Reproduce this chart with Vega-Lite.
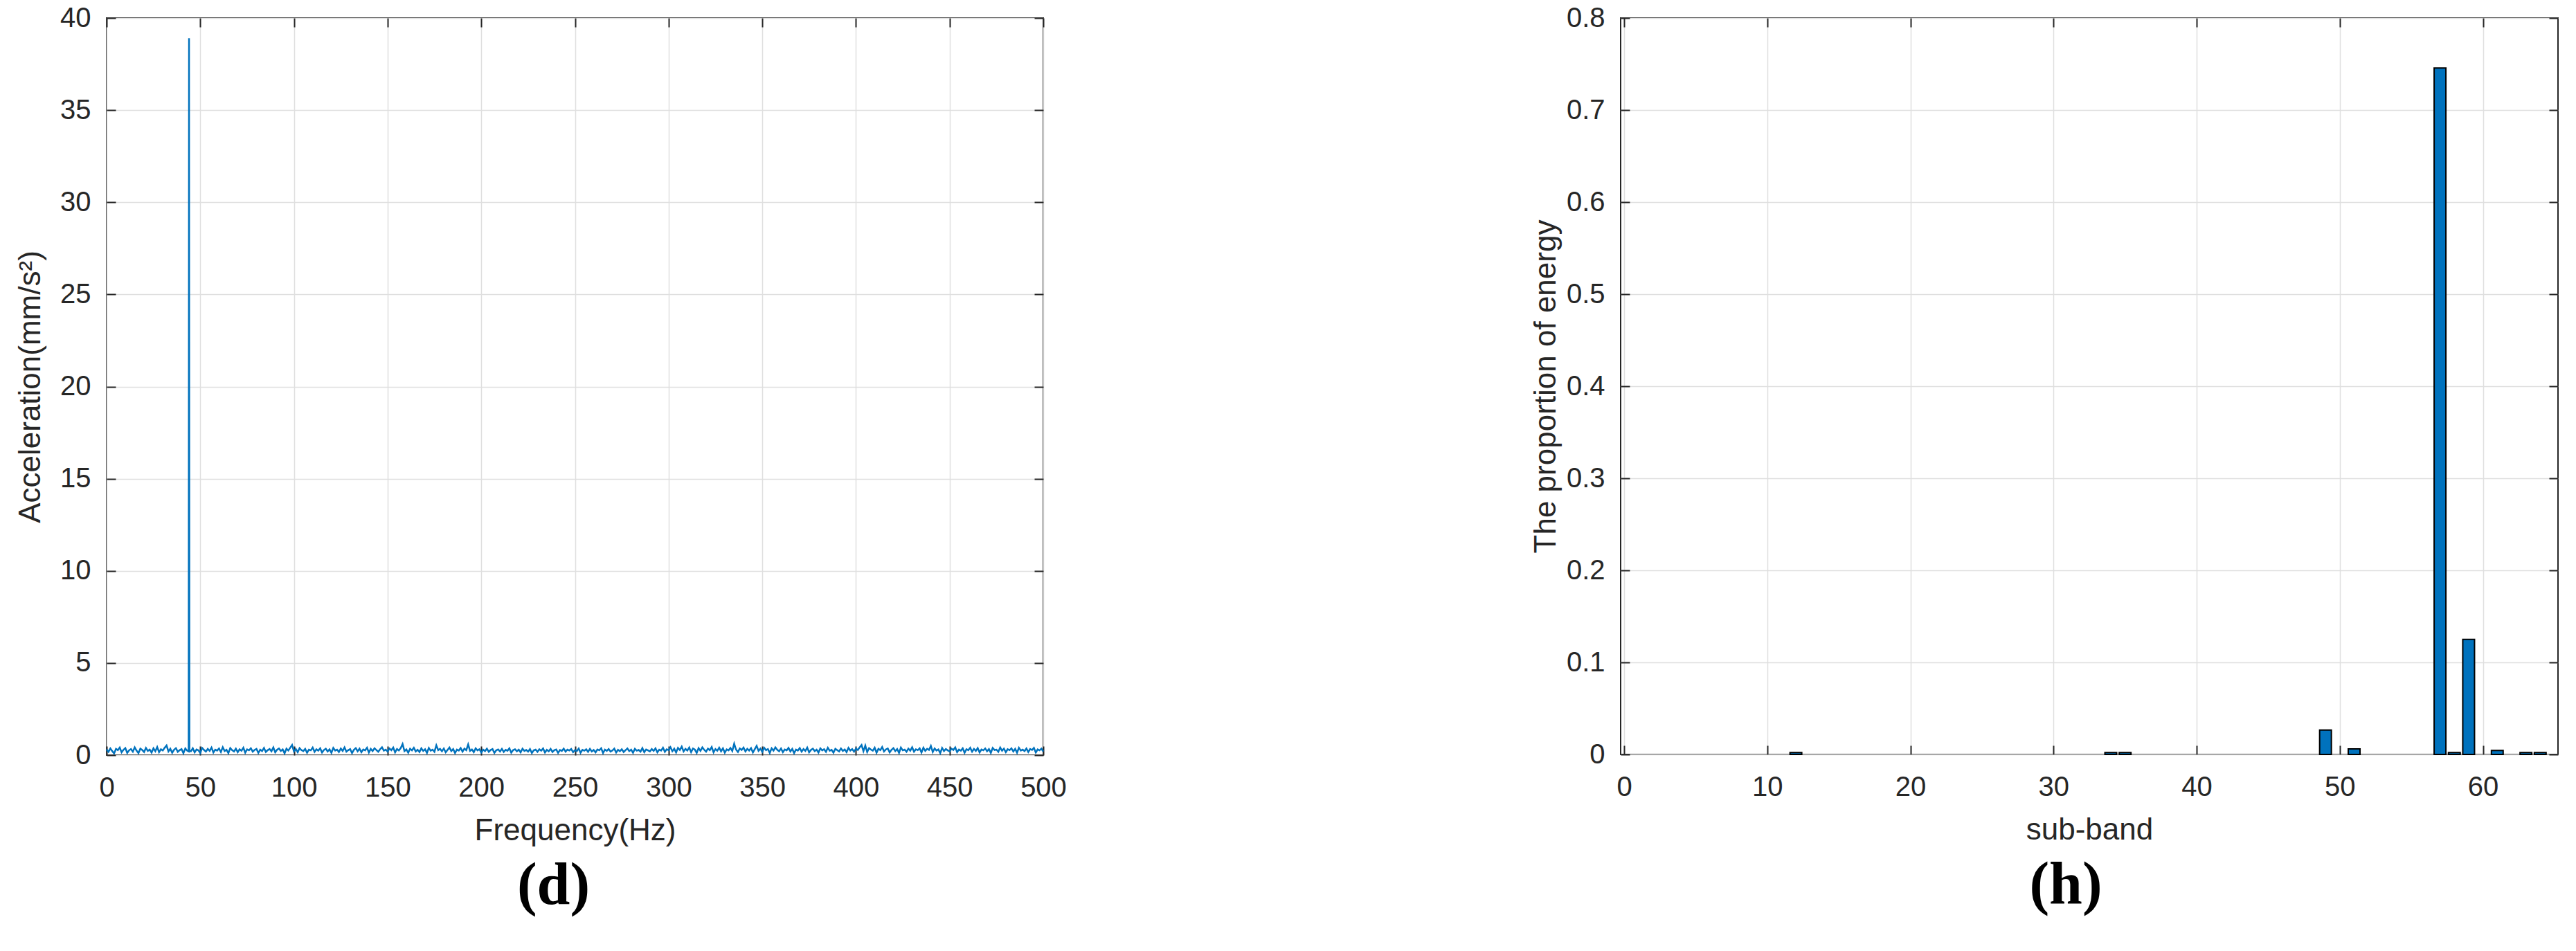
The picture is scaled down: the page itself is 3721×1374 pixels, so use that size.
{
  "$schema": "https://vega.github.io/schema/vega-lite/v6.json",
  "autosize": {"type": "pad"},
  "padding": {"left": 21, "top": 5, "right": 10, "bottom": 10},
  "background": "white",
  "bounds": "flush",
  "spacing": 834,
  "config": {
    "view": {"stroke": "#262626", "strokeWidth": 2},
    "font": "Liberation Sans",
    "axis": {
      "labelFont": "Liberation Sans", "labelFontSize": 40, "labelColor": "#262626", "labelFlush": false,
      "titleFont": "Liberation Sans", "titleFontSize": 44, "titleFontWeight": "normal", "titleColor": "#262626",
      "gridColor": "#dfdfdf", "gridWidth": 1.5, "domain": false,
      "tickColor": "#262626", "tickSize": -13, "tickWidth": 2
    },
    "title": {"font": "Liberation Serif", "fontWeight": "bold", "fontSize": 86, "color": "#000000"}
  },
  "hconcat": [
    {
      "width": 1353, "height": 1065,
      "title": {"text": "(d)", "orient": "bottom", "dx": -31, "offset": 16},
      "data": {"values": [
        {"f":0,"a":0.31},{"f":1,"a":0.18},{"f":2,"a":0.36},{"f":3,"a":0.22},{"f":4,"a":0.09},{"f":5,"a":0.34},{"f":6,"a":0.27},{"f":7,"a":0.41},{"f":8,"a":0.15},{"f":9,"a":0.29},
        {"f":10,"a":0.38},{"f":11,"a":0.12},{"f":12,"a":0.26},{"f":13,"a":0.33},{"f":14,"a":0.19},{"f":15,"a":0.42},{"f":16,"a":0.24},{"f":17,"a":0.11},{"f":18,"a":0.35},{"f":19,"a":0.28},
        {"f":20,"a":0.17},{"f":21,"a":0.39},{"f":22,"a":0.23},{"f":23,"a":0.3},{"f":24,"a":0.14},{"f":25,"a":0.37},{"f":26,"a":0.21},{"f":27,"a":0.44},{"f":28,"a":0.16},{"f":29,"a":0.32},
        {"f":30,"a":0.25},{"f":31,"a":0.4},{"f":32,"a":0.52},{"f":33,"a":0.2},{"f":34,"a":0.35},{"f":35,"a":0.13},{"f":36,"a":0.29},{"f":37,"a":0.38},{"f":38,"a":0.18},{"f":39,"a":0.27},
        {"f":40,"a":0.33},{"f":41,"a":0.1},{"f":42,"a":0.36},{"f":43,"a":0.24},{"f":43.8,"a":0.2},{"f":44,"a":38.9},{"f":44.2,"a":0.22},{"f":45,"a":0.21},{"f":46,"a":0.37},{"f":47,"a":0.15},{"f":48,"a":0.31},{"f":49,"a":0.26},
        {"f":50,"a":0.12},{"f":51,"a":0.39},{"f":52,"a":0.28},{"f":53,"a":0.19},{"f":54,"a":0.34},{"f":55,"a":0.23},{"f":56,"a":0.41},{"f":57,"a":0.14},{"f":58,"a":0.3},{"f":59,"a":0.25},
        {"f":60,"a":0.36},{"f":61,"a":0.17},{"f":62,"a":0.43},{"f":63,"a":0.22},{"f":64,"a":0.29},{"f":65,"a":0.11},{"f":66,"a":0.38},{"f":67,"a":0.27},{"f":68,"a":0.2},{"f":69,"a":0.35},
        {"f":70,"a":0.16},{"f":71,"a":0.32},{"f":72,"a":0.24},{"f":73,"a":0.4},{"f":74,"a":0.13},{"f":75,"a":0.31},{"f":76,"a":0.26},{"f":77,"a":0.37},{"f":78,"a":0.19},{"f":79,"a":0.28},
        {"f":80,"a":0.34},{"f":81,"a":0.12},{"f":82,"a":0.3},{"f":83,"a":0.22},{"f":84,"a":0.39},{"f":85,"a":0.17},{"f":86,"a":0.27},{"f":87,"a":0.33},{"f":88,"a":0.21},{"f":89,"a":0.42},
        {"f":90,"a":0.15},{"f":91,"a":0.29},{"f":92,"a":0.36},{"f":93,"a":0.23},{"f":94,"a":0.31},{"f":95,"a":0.1},{"f":96,"a":0.35},{"f":97,"a":0.25},{"f":98,"a":0.4},{"f":99,"a":0.55},
        {"f":100,"a":0.2},{"f":101,"a":0.33},{"f":102,"a":0.16},{"f":103,"a":0.38},{"f":104,"a":0.27},{"f":105,"a":0.22},{"f":106,"a":0.34},{"f":107,"a":0.13},{"f":108,"a":0.3},{"f":109,"a":0.26},
        {"f":110,"a":0.41},{"f":111,"a":0.18},{"f":112,"a":0.32},{"f":113,"a":0.24},{"f":114,"a":0.37},{"f":115,"a":0.14},{"f":116,"a":0.28},{"f":117,"a":0.35},{"f":118,"a":0.2},{"f":119,"a":0.31},
        {"f":120,"a":0.12},{"f":121,"a":0.39},{"f":122,"a":0.25},{"f":123,"a":0.3},{"f":124,"a":0.17},{"f":125,"a":0.36},{"f":126,"a":0.23},{"f":127,"a":0.42},{"f":128,"a":0.19},{"f":129,"a":0.27},
        {"f":130,"a":0.33},{"f":131,"a":0.11},{"f":132,"a":0.29},{"f":133,"a":0.38},{"f":134,"a":0.21},{"f":135,"a":0.35},{"f":136,"a":0.16},{"f":137,"a":0.31},{"f":138,"a":0.26},{"f":139,"a":0.4},
        {"f":140,"a":0.14},{"f":141,"a":0.34},{"f":142,"a":0.22},{"f":143,"a":0.37},{"f":144,"a":0.28},{"f":145,"a":0.18},{"f":146,"a":0.32},{"f":147,"a":0.43},{"f":148,"a":0.24},{"f":149,"a":0.3},
        {"f":150,"a":0.19},{"f":151,"a":0.36},{"f":152,"a":0.27},{"f":153,"a":0.41},{"f":154,"a":0.15},{"f":155,"a":0.33},{"f":156,"a":0.25},{"f":157,"a":0.38},{"f":158,"a":0.6},{"f":159,"a":0.22},
        {"f":160,"a":0.31},{"f":161,"a":0.13},{"f":162,"a":0.35},{"f":163,"a":0.26},{"f":164,"a":0.4},{"f":165,"a":0.2},{"f":166,"a":0.29},{"f":167,"a":0.17},{"f":168,"a":0.37},{"f":169,"a":0.23},
        {"f":170,"a":0.32},{"f":171,"a":0.12},{"f":172,"a":0.39},{"f":173,"a":0.24},{"f":174,"a":0.3},{"f":175,"a":0.18},{"f":176,"a":0.53},{"f":177,"a":0.27},{"f":178,"a":0.34},{"f":179,"a":0.21},
        {"f":180,"a":0.36},{"f":181,"a":0.15},{"f":182,"a":0.28},{"f":183,"a":0.41},{"f":184,"a":0.22},{"f":185,"a":0.33},{"f":186,"a":0.11},{"f":187,"a":0.3},{"f":188,"a":0.25},{"f":189,"a":0.38},
        {"f":190,"a":0.19},{"f":191,"a":0.35},{"f":192,"a":0.27},{"f":193,"a":0.58},{"f":194,"a":0.23},{"f":195,"a":0.31},{"f":196,"a":0.16},{"f":197,"a":0.37},{"f":198,"a":0.26},{"f":199,"a":0.32},
        {"f":200,"a":0.14},{"f":201,"a":0.3},{"f":202,"a":0.22},{"f":203,"a":0.35},{"f":204,"a":0.18},{"f":205,"a":0.28},{"f":206,"a":0.33},{"f":207,"a":0.12},{"f":208,"a":0.26},{"f":209,"a":0.31},
        {"f":210,"a":0.2},{"f":211,"a":0.34},{"f":212,"a":0.17},{"f":213,"a":0.29},{"f":214,"a":0.24},{"f":215,"a":0.37},{"f":216,"a":0.13},{"f":217,"a":0.27},{"f":218,"a":0.32},{"f":219,"a":0.21},
        {"f":220,"a":0.3},{"f":221,"a":0.15},{"f":222,"a":0.35},{"f":223,"a":0.23},{"f":224,"a":0.28},{"f":225,"a":0.19},{"f":226,"a":0.33},{"f":227,"a":0.11},{"f":228,"a":0.26},{"f":229,"a":0.3},
        {"f":230,"a":0.18},{"f":231,"a":0.32},{"f":232,"a":0.24},{"f":233,"a":0.36},{"f":234,"a":0.14},{"f":235,"a":0.29},{"f":236,"a":0.21},{"f":237,"a":0.34},{"f":238,"a":0.17},{"f":239,"a":0.27},
        {"f":240,"a":0.31},{"f":241,"a":0.12},{"f":242,"a":0.28},{"f":243,"a":0.23},{"f":244,"a":0.35},{"f":245,"a":0.19},{"f":246,"a":0.3},{"f":247,"a":0.25},{"f":248,"a":0.33},{"f":249,"a":0.16},
        {"f":250,"a":0.27},{"f":251,"a":0.22},{"f":252,"a":0.36},{"f":253,"a":0.13},{"f":254,"a":0.29},{"f":255,"a":0.24},{"f":256,"a":0.32},{"f":257,"a":0.18},{"f":258,"a":0.34},{"f":259,"a":0.2},
        {"f":260,"a":0.28},{"f":261,"a":0.15},{"f":262,"a":0.31},{"f":263,"a":0.26},{"f":264,"a":0.37},{"f":265,"a":0.11},{"f":266,"a":0.3},{"f":267,"a":0.23},{"f":268,"a":0.33},{"f":269,"a":0.19},
        {"f":270,"a":0.25},{"f":271,"a":0.35},{"f":272,"a":0.14},{"f":273,"a":0.29},{"f":274,"a":0.21},{"f":275,"a":0.32},{"f":276,"a":0.17},{"f":277,"a":0.27},{"f":278,"a":0.36},{"f":279,"a":0.22},
        {"f":280,"a":0.3},{"f":281,"a":0.13},{"f":282,"a":0.34},{"f":283,"a":0.24},{"f":284,"a":0.28},{"f":285,"a":0.19},{"f":286,"a":0.38},{"f":287,"a":0.16},{"f":288,"a":0.31},{"f":289,"a":0.26},
        {"f":290,"a":0.2},{"f":291,"a":0.33},{"f":292,"a":0.23},{"f":293,"a":0.37},{"f":294,"a":0.15},{"f":295,"a":0.3},{"f":296,"a":0.25},{"f":297,"a":0.4},{"f":298,"a":0.18},{"f":299,"a":0.32},
        {"f":300,"a":0.27},{"f":301,"a":0.43},{"f":302,"a":0.21},{"f":303,"a":0.35},{"f":304,"a":0.14},{"f":305,"a":0.39},{"f":306,"a":0.28},{"f":307,"a":0.46},{"f":308,"a":0.2},{"f":309,"a":0.34},
        {"f":310,"a":0.25},{"f":311,"a":0.41},{"f":312,"a":0.16},{"f":313,"a":0.36},{"f":314,"a":0.3},{"f":315,"a":0.12},{"f":316,"a":0.38},{"f":317,"a":0.23},{"f":318,"a":0.42},{"f":319,"a":0.29},
        {"f":320,"a":0.19},{"f":321,"a":0.35},{"f":322,"a":0.27},{"f":323,"a":0.44},{"f":324,"a":0.15},{"f":325,"a":0.33},{"f":326,"a":0.24},{"f":327,"a":0.4},{"f":328,"a":0.21},{"f":329,"a":0.37},
        {"f":330,"a":0.13},{"f":331,"a":0.31},{"f":332,"a":0.26},{"f":333,"a":0.39},{"f":334,"a":0.22},{"f":335,"a":0.62},{"f":336,"a":0.3},{"f":337,"a":0.17},{"f":338,"a":0.36},{"f":339,"a":0.28},
        {"f":340,"a":0.41},{"f":341,"a":0.2},{"f":342,"a":0.34},{"f":343,"a":0.25},{"f":344,"a":0.38},{"f":345,"a":0.14},{"f":346,"a":0.32},{"f":347,"a":0.5},{"f":348,"a":0.23},{"f":349,"a":0.35},
        {"f":350,"a":0.18},{"f":351,"a":0.4},{"f":352,"a":0.27},{"f":353,"a":0.33},{"f":354,"a":0.12},{"f":355,"a":0.37},{"f":356,"a":0.24},{"f":357,"a":0.42},{"f":358,"a":0.29},{"f":359,"a":0.21},
        {"f":360,"a":0.36},{"f":361,"a":0.16},{"f":362,"a":0.31},{"f":363,"a":0.26},{"f":364,"a":0.39},{"f":365,"a":0.2},{"f":366,"a":0.34},{"f":367,"a":0.11},{"f":368,"a":0.3},{"f":369,"a":0.25},
        {"f":370,"a":0.38},{"f":371,"a":0.19},{"f":372,"a":0.33},{"f":373,"a":0.23},{"f":374,"a":0.41},{"f":375,"a":0.15},{"f":376,"a":0.28},{"f":377,"a":0.35},{"f":378,"a":0.22},{"f":379,"a":0.3},
        {"f":380,"a":0.14},{"f":381,"a":0.37},{"f":382,"a":0.26},{"f":383,"a":0.32},{"f":384,"a":0.18},{"f":385,"a":0.4},{"f":386,"a":0.24},{"f":387,"a":0.29},{"f":388,"a":0.13},{"f":389,"a":0.34},
        {"f":390,"a":0.27},{"f":391,"a":0.2},{"f":392,"a":0.36},{"f":393,"a":0.23},{"f":394,"a":0.31},{"f":395,"a":0.16},{"f":396,"a":0.39},{"f":397,"a":0.25},{"f":398,"a":0.33},{"f":399,"a":0.19},
        {"f":400,"a":0.35},{"f":401,"a":0.28},{"f":402,"a":0.42},{"f":403,"a":0.55},{"f":404,"a":0.21},{"f":405,"a":0.52},{"f":406,"a":0.17},{"f":407,"a":0.38},{"f":408,"a":0.3},{"f":409,"a":0.24},
        {"f":410,"a":0.4},{"f":411,"a":0.13},{"f":412,"a":0.34},{"f":413,"a":0.27},{"f":414,"a":0.44},{"f":415,"a":0.2},{"f":416,"a":0.31},{"f":417,"a":0.36},{"f":418,"a":0.15},{"f":419,"a":0.29},
        {"f":420,"a":0.38},{"f":421,"a":0.22},{"f":422,"a":0.33},{"f":423,"a":0.12},{"f":424,"a":0.41},{"f":425,"a":0.26},{"f":426,"a":0.3},{"f":427,"a":0.18},{"f":428,"a":0.35},{"f":429,"a":0.24},
        {"f":430,"a":0.43},{"f":431,"a":0.19},{"f":432,"a":0.32},{"f":433,"a":0.27},{"f":434,"a":0.37},{"f":435,"a":0.14},{"f":436,"a":0.4},{"f":437,"a":0.23},{"f":438,"a":0.34},{"f":439,"a":0.28},
        {"f":440,"a":0.5},{"f":441,"a":0.17},{"f":442,"a":0.36},{"f":443,"a":0.25},{"f":444,"a":0.31},{"f":445,"a":0.11},{"f":446,"a":0.39},{"f":447,"a":0.22},{"f":448,"a":0.33},{"f":449,"a":0.26},
        {"f":450,"a":0.2},{"f":451,"a":0.35},{"f":452,"a":0.28},{"f":453,"a":0.42},{"f":454,"a":0.16},{"f":455,"a":0.3},{"f":456,"a":0.24},{"f":457,"a":0.37},{"f":458,"a":0.13},{"f":459,"a":0.32},
        {"f":460,"a":0.27},{"f":461,"a":0.4},{"f":462,"a":0.19},{"f":463,"a":0.34},{"f":464,"a":0.23},{"f":465,"a":0.38},{"f":466,"a":0.15},{"f":467,"a":0.31},{"f":468,"a":0.26},{"f":469,"a":0.36},
        {"f":470,"a":0.21},{"f":471,"a":0.33},{"f":472,"a":0.12},{"f":473,"a":0.39},{"f":474,"a":0.28},{"f":475,"a":0.3},{"f":476,"a":0.18},{"f":477,"a":0.41},{"f":478,"a":0.24},{"f":479,"a":0.35},
        {"f":480,"a":0.16},{"f":481,"a":0.32},{"f":482,"a":0.27},{"f":483,"a":0.37},{"f":484,"a":0.2},{"f":485,"a":0.34},{"f":486,"a":0.13},{"f":487,"a":0.4},{"f":488,"a":0.25},{"f":489,"a":0.3},
        {"f":490,"a":0.22},{"f":491,"a":0.36},{"f":492,"a":0.17},{"f":493,"a":0.33},{"f":494,"a":0.28},{"f":495,"a":0.39},{"f":496,"a":0.14},{"f":497,"a":0.31},{"f":498,"a":0.26},{"f":499,"a":0.35},
        {"f":500,"a":0.2}
      ]},
      "layer": [
        {
          "mark": {"type": "line", "color": "#0072BD", "strokeWidth": 2.5},
          "encoding": {
            "x": {"field": "f", "type": "quantitative", "scale": {"domain": [0, 500], "nice": false},
                  "axis": {"title": "Frequency(Hz)", "values": [0,50,100,150,200,250,300,350,400,450,500], "labelPadding": 40, "titlePadding": 20}},
            "y": {"field": "a", "type": "quantitative", "scale": {"domain": [0, 40], "nice": false},
                  "axis": {"title": "Acceleration(mm/s²)", "values": [0,5,10,15,20,25,30,35,40], "labelPadding": 36, "titlePadding": 20}}
          }
        },
        {
          "mark": {"type": "line", "opacity": 0},
          "encoding": {
            "x": {"field": "f", "type": "quantitative", "axis": {"orient": "top", "labels": false, "grid": false, "title": null, "values": [0,50,100,150,200,250,300,350,400,450,500]}},
            "y": {"field": "a", "type": "quantitative", "axis": {"orient": "right", "labels": false, "grid": false, "title": null, "values": [0,5,10,15,20,25,30,35,40]}}
          }
        }
      ],
      "resolve": {"axis": {"x": "independent", "y": "independent"}}
    },
    {
      "width": 1354, "height": 1064,
      "title": {"text": "(h)", "orient": "bottom", "dx": -34, "offset": 16},
      "data": {"values": [
        {"band": 12, "p": 0.002},
        {"band": 34, "p": 0.002},
        {"band": 35, "p": 0.002},
        {"band": 49, "p": 0.0265},
        {"band": 51, "p": 0.006},
        {"band": 57, "p": 0.7456},
        {"band": 58, "p": 0.002},
        {"band": 59, "p": 0.125},
        {"band": 61, "p": 0.0043},
        {"band": 63, "p": 0.002},
        {"band": 64, "p": 0.002}
      ]},
      "layer": [
        {
          "mark": {"type": "bar", "color": "#0072BD", "stroke": "#000000", "strokeWidth": 2, "width": 17},
          "encoding": {
            "x": {"field": "band", "type": "quantitative", "scale": {"domain": [0, 65], "nice": false},
                  "axis": {"title": "sub-band", "values": [0,10,20,30,40,50,60], "labelPadding": 40, "titlePadding": 20}},
            "y": {"field": "p", "type": "quantitative", "scale": {"domain": [0, 0.8], "nice": false},
                  "axis": {"title": "The proportion of energy", "values": [0,0.1,0.2,0.3,0.4,0.5,0.6,0.7,0.8], "format": "~g", "labelPadding": 36, "titlePadding": 7}}
          }
        },
        {
          "mark": {"type": "bar", "opacity": 0, "width": 1},
          "encoding": {
            "x": {"field": "band", "type": "quantitative", "axis": {"orient": "top", "labels": false, "grid": false, "title": null, "values": [0,10,20,30,40,50,60]}},
            "y": {"field": "p", "type": "quantitative", "axis": {"orient": "right", "labels": false, "grid": false, "title": null, "values": [0,0.1,0.2,0.3,0.4,0.5,0.6,0.7,0.8]}}
          }
        }
      ],
      "resolve": {"axis": {"x": "independent", "y": "independent"}}
    }
  ]
}
